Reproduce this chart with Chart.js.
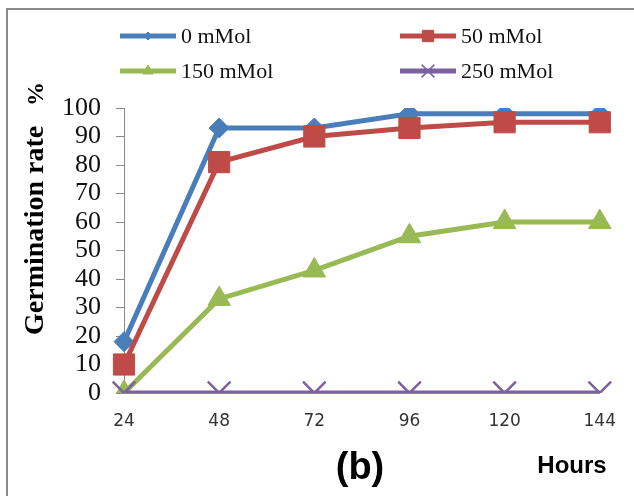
<!DOCTYPE html>
<html>
<head>
<meta charset="utf-8">
<script src="https://cdn.jsdelivr.net/npm/chart.js@4/dist/chart.umd.min.js"></script>
<style>
  html, body { margin: 0; padding: 0; background: #fff; }
  #wrap { position: relative; width: 634px; height: 496px; }
</style>
</head>
<body>
<div id="wrap"><canvas id="c" width="634" height="496"></canvas></div>
<script>
// ---- data ----
const hours = ['24', '48', '72', '96', '120', '144'];
const seriesNames = ['0 mMol', '50 mMol', '150 mMol', '250 mMol'];
const mMol0   = [18, 93, 93, 98, 98, 98];
const mMol50  = [10, 81, 90, 93, 95, 95];
const mMol150 = [0, 33, 43, 55, 60, 60];
const mMol250 = [0, 0, 0, 0, 0, 0];
const yTicks  = [0, 10, 20, 30, 40, 50, 60, 70, 80, 90, 100];

const colors = ['#4a7ebb', '#be4b48', '#98b954', '#7d60a0'];
const styles = ['rectRot', 'rect', 'triangle', 'crossRot'];
const radii  = [10, 15, 13, 16];
const legendRadii = [4, 8, 6, 9];

function ds(i, data, order) {
  return {
    label: seriesNames[i],
    data: data,
    borderColor: colors[i],
    backgroundColor: colors[i],
    borderWidth: 5,
    pointStyle: styles[i],
    pointRadius: radii[i],
    pointHoverRadius: radii[i],
    pointBackgroundColor: colors[i],
    pointBorderColor: colors[i],
    pointBorderWidth: i === 3 ? 2.5 : 1,
    tension: 0,
    order: order
  };
}

const extras = {
  id: 'extras',
  afterDraw(chart) {
    const ctx = chart.ctx;
    ctx.save();
    // frame
    ctx.strokeStyle = '#8a8a8a';
    ctx.lineWidth = 2;
    ctx.beginPath();
    ctx.moveTo(7, 520);
    ctx.lineTo(7, 9);
    ctx.lineTo(660, 9);
    ctx.stroke();

    // legend
    const cols = [120, 400];
    const rows = [36, 71];
    for (let i = 0; i < 4; i++) {
      const x0 = cols[i % 2], y = rows[Math.floor(i / 2)];
      ctx.strokeStyle = colors[i];
      ctx.lineWidth = 5;
      ctx.beginPath();
      ctx.moveTo(x0, y);
      ctx.lineTo(x0 + 56, y);
      ctx.stroke();
      ctx.fillStyle = colors[i];
      ctx.strokeStyle = colors[i];
      ctx.lineWidth = i === 3 ? 1.5 : 1;
      Chart.helpers.drawPoint(ctx, { pointStyle: styles[i], radius: legendRadii[i], rotation: 0, borderWidth: ctx.lineWidth }, x0 + 28, y);
      ctx.fillStyle = '#111';
      ctx.font = '22px "Liberation Serif"';
      ctx.textAlign = 'left';
      ctx.textBaseline = 'middle';
      ctx.fillText(seriesNames[i], x0 + 61, y + 1);
    }

    // y axis title
    ctx.fillStyle = '#000';
    ctx.save();
    ctx.translate(43, 335);
    ctx.rotate(-Math.PI / 2);
    ctx.font = 'bold 28px "Liberation Serif"';
    ctx.textAlign = 'left';
    ctx.textBaseline = 'alphabetic';
    ctx.fillText('Germination rate', 0, 0);
    ctx.restore();
    ctx.save();
    ctx.translate(43, 94);
    ctx.rotate(-Math.PI / 2);
    ctx.font = 'bold 24px "Liberation Serif"';
    ctx.textAlign = 'center';
    ctx.textBaseline = 'alphabetic';
    ctx.fillText('%', 0, 0);
    ctx.restore();

    // (b) and Hours
    ctx.fillStyle = '#000';
    ctx.font = 'bold 38px "Liberation Sans"';
    ctx.textAlign = 'center';
    ctx.textBaseline = 'alphabetic';
    ctx.fillText('(b)', 360, 479);
    ctx.font = 'bold 24px "Liberation Sans"';
    ctx.fillText('Hours', 572, 473);
    ctx.restore();
  }
};

new Chart(document.getElementById('c'), {
  type: 'line',
  data: {
    labels: hours,
    datasets: [
      ds(0, mMol0, 3),
      ds(1, mMol50, 2),
      ds(2, mMol150, 1),
      ds(3, mMol250, 0)
    ]
  },
  options: {
    responsive: false,
    animation: false,
    events: [],
    layout: { padding: { left: 0, top: 108, right: 27, bottom: 0 } },
    plugins: { legend: { display: false }, tooltip: { enabled: false } },
    scales: {
      x: {
        type: 'category',
        offset: false,
        grid: { display: false, drawTicks: false },
        border: { display: true, color: '#8a8a8a', width: 1 },
        ticks: { color: '#333', font: { family: 'DejaVu Sans', size: 17 }, padding: 18, maxRotation: 0, autoSkip: false },
        afterFit(s) { s.height = 103; }
      },
      y: {
        min: 0, max: 100,
        afterBuildTicks(s) { s.ticks = yTicks.map(v => ({ value: v })); },
        grid: { drawOnChartArea: false, drawTicks: true, tickLength: 8, color: '#8a8a8a' },
        border: { display: true, color: '#8a8a8a', width: 1 },
        ticks: { color: '#111', font: { family: 'Liberation Serif', size: 26 }, padding: 15, autoSkip: false },
        afterFit(s) { s.width = 124; }
      }
    }
  },
  plugins: [extras]
});
</script>
</body>
</html>
